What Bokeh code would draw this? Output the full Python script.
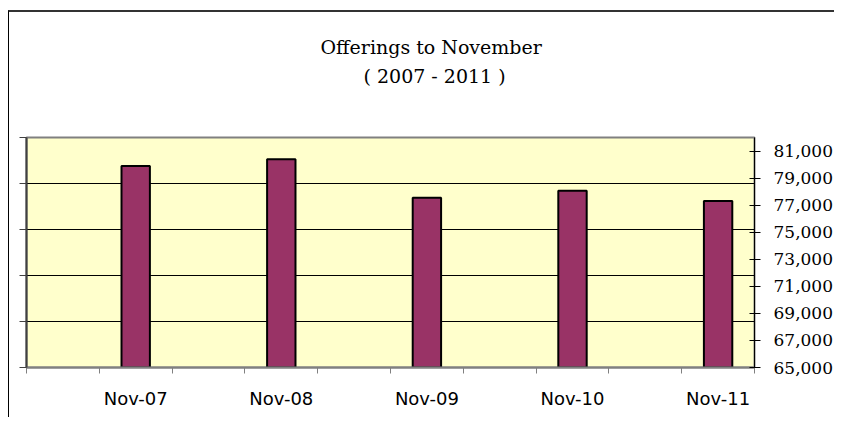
from bokeh.plotting import figure
from bokeh.models import (Range1d, LinearAxis, FixedTicker, NumeralTickFormatter, Title)
from bokeh.embed import file_html
from bokeh.resources import INLINE

# ---- data ----
categories = ["Nov-07", "Nov-08", "Nov-09", "Nov-10", "Nov-11"]
offerings = [79900, 80400, 77550, 78070, 77310]
right_ticks = [65000, 67000, 69000, 71000, 73000, 75000, 77000, 79000, 81000]
y_min, y_max = 65000, 82000
title_line1 = "Offerings to November"
title_line2 = "( 2007 - 2011 )"

n = len(categories)
xpos = [i + 0.75 for i in range(n)]

p = figure(width=826, height=407, output_backend="svg", toolbar_location=None,
           x_range=Range1d(0, n), y_range=Range1d(y_min, y_max),
           y_axis_location="right",
           min_border_left=17, min_border_right=77, min_border_top=125, min_border_bottom=52,
           background_fill_color="#FFFFCC", border_fill_color="white",
           styles={"border-top": "2px solid #333333", "border-left": "1px solid #000000",
                   "margin-top": "10px", "margin-left": "8px"})

p.outline_line_color = "#808080"
p.outline_line_width = 2
p.xgrid.visible = False

# title lines
def style_title(t, offset, standoff):
    t.align = "left"
    t.offset = offset
    t.standoff = standoff
    t.text_font = "DejaVu Serif"
    t.text_font_size = "19px"
    t.text_font_style = "normal"
    t.text_color = "black"

p.title.text = title_line1
style_title(p.title, 294, -90)
t2 = Title(text=title_line2)
style_title(t2, 337, 101)
p.add_layout(t2, "above")

# gridlines: 5 equal divisions (primary axis)
step = (y_max - y_min) / 5
grid_vals = [y_min + step * k for k in range(1, 5)]
left_vals = [y_min + step * k for k in range(0, 6)]
p.ygrid.ticker = FixedTicker(ticks=grid_vals)
p.ygrid.grid_line_color = "black"
p.ygrid.grid_line_width = 1

# right axis
ra = p.yaxis[0]
ra.ticker = FixedTicker(ticks=right_ticks)
ra.formatter = NumeralTickFormatter(format="0,0")
ra.major_label_text_font = "DejaVu Serif"
ra.major_label_text_font_size = "17px"
ra.major_label_text_color = "black"
ra.major_label_standoff = 13
ra.major_tick_in = 5
ra.major_tick_out = 6
ra.minor_tick_line_color = None
ra.axis_line_color = "black"
ra.axis_line_width = 1
ra.major_tick_line_color = "black"

# left axis (no labels)
la = LinearAxis(ticker=FixedTicker(ticks=left_vals),
                major_label_overrides={v: "" for v in left_vals},
                major_tick_in=0, major_tick_out=7, minor_tick_line_color=None,
                axis_line_color="#404040", axis_line_width=2,
                major_tick_line_color="#404040", major_tick_line_width=1)
p.add_layout(la, "left")

# bottom axis
xa = p.xaxis[0]
xa.ticker = FixedTicker(ticks=xpos, minor_ticks=[k * 0.5 for k in range(2 * n + 1)])
xa.major_label_overrides = {x: c for x, c in zip(xpos, categories)}
xa.major_tick_in = 0
xa.major_tick_out = 0
xa.minor_tick_in = 0
xa.minor_tick_out = 6
xa.minor_tick_line_color = "#808080"
xa.axis_line_color = "#808080"
xa.axis_line_width = 2
xa.major_label_text_font = "DejaVu Sans"
xa.major_label_text_font_size = "18px"
xa.major_label_text_color = "black"
xa.major_label_standoff = 14

p.vbar(x=xpos, top=offerings, bottom=y_min, width=0.195,
       fill_color="#993366", line_color="black", line_width=2)

open("out.html", "w").write(file_html(p, INLINE))
